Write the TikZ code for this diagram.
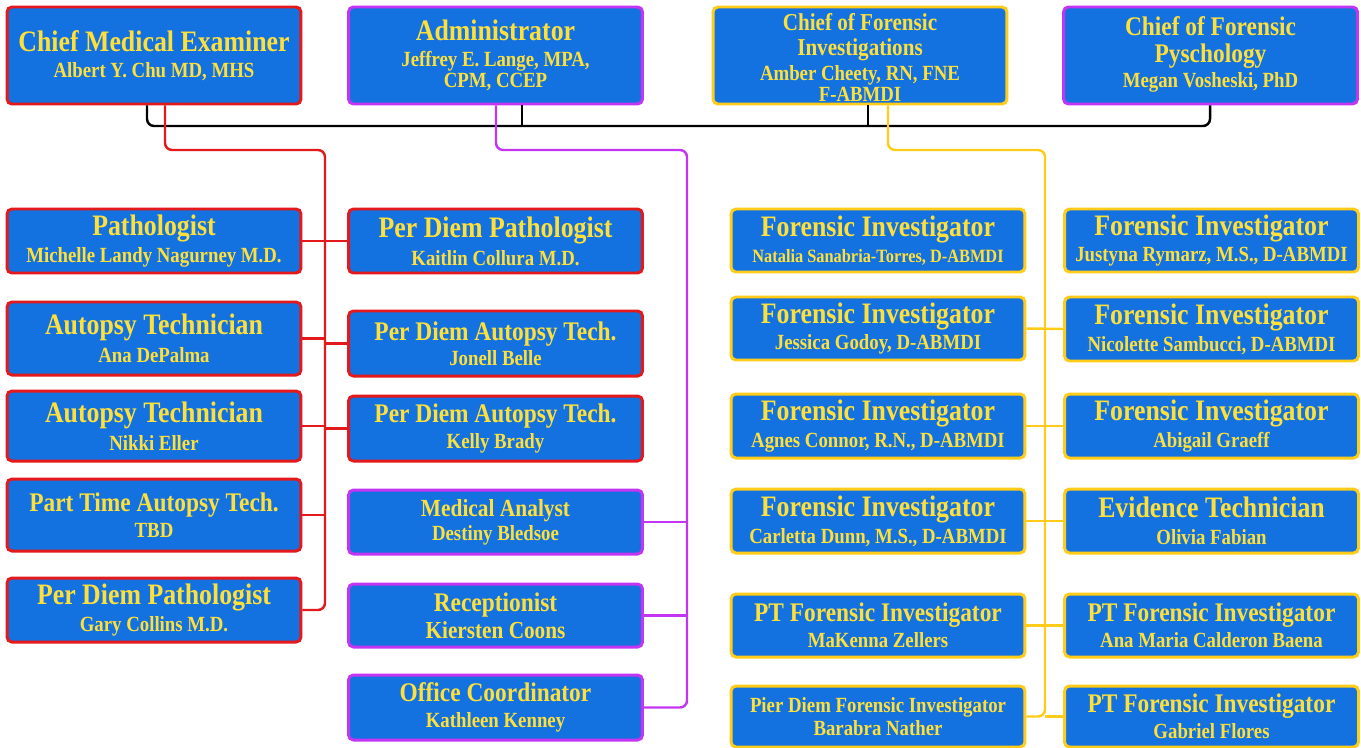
\documentclass[tikz,border=0pt]{standalone}
\usepackage{fontspec}
\setmainfont{Liberation Serif}[FakeStretch=0.87]
\usepackage{xcolor}
\usepackage{tikz}

\definecolor{boxblue}{HTML}{1372E0}
\definecolor{boxtext}{HTML}{FFE03A}
\definecolor{medred}{HTML}{E3191B}
\definecolor{admpurple}{HTML}{C335F2}
\definecolor{invgold}{HTML}{FFCC1A}

\newcommand{\ttl}{\fontsize{16.9}{19}\selectfont}
\newcommand{\ttm}{\fontsize{15.3}{18}\selectfont}
\newcommand{\tts}{\fontsize{12.3}{15}\selectfont}
\newcommand{\nm}{\fontsize{12.3}{15}\selectfont}
\newcommand{\nms}{\fontsize{10.7}{13}\selectfont}

\tikzset{
  box/.style={draw, rounded corners=2.8pt, fill=boxblue, text=boxtext,
    line width=1.7pt, minimum width=5.88cm, align=center, inner sep=0pt,
    font={\bfseries\fontsize{12}{15.3}\selectfont}},
  redbox/.style={box, draw=medred},
  purplebox/.style={box, draw=admpurple},
  goldbox/.style={box, draw=invgold},
  hgt/.style={minimum height=#1*0.02cm},
  busline/.style={line width=1.4pt, black, rounded corners=4pt},
  redline/.style={line width=1.4pt, medred, rounded corners=4pt},
  purpleline/.style={line width=1.4pt, admpurple, rounded corners=4pt},
  goldline/.style={line width=1.4pt, invgold, rounded corners=4pt}
}

\begin{document}
\begin{tikzpicture}[x=0.02cm, y=-0.02cm]
  \useasboundingbox (0,0) rectangle (1361,747);

  % top row
  \node[redbox, hgt=97] (cme) at (154,55.5)
    {{\ttl Chief Medical Examiner}\\[-0.6pt]{\nm Albert Y. Chu MD, MHS}};
  \node[purplebox, hgt=97] (adm) at (495.5,55.5)
    {{\ttl Administrator}\\[-0.6pt]{\nm Jeffrey E. Lange, MPA,}\\[-3.4pt]{\nm CPM, CCEP}};
  \node[goldbox, hgt=97] (cfi) at (860,55.5)
    {{\fontsize{13.8}{15}\selectfont\rule{0pt}{12.2pt}Chief of Forensic}\\[-0.8pt]
     {\fontsize{13.8}{15}\selectfont Investigations}\\[-1.4pt]
     {\nm Amber Cheety, RN, FNE}\\[-3.1pt]{\nm F-ABMDI}};
  \node[purplebox, hgt=97] (cfp) at (1210.5,55.5)
    {{\ttm Chief of Forensic}\\[0pt]{\ttm Pyschology}\\[-1.1pt]{\nm Megan Vosheski, PhD}\rule[-4pt]{0pt}{1pt}};

  % medical examiner column
  \node[redbox, hgt=64] (path) at (154,241)
    {{\ttl Pathologist}\\{\nm Michelle Landy Nagurney M.D.}};
  \node[redbox, hgt=73] (aut1) at (154,338.5)
    {{\ttl Autopsy Technician}\\[0.6pt]{\nm Ana DePalma}};
  \node[redbox, hgt=70] (aut2) at (154,426)
    {{\ttl Autopsy Technician}\\[0.6pt]{\nm Nikki Eller}};
  \node[redbox, hgt=72] (ptat) at (154,515)
    {{\ttm Part Time Autopsy Tech.}\\[-0.6pt]{\nm TBD}};
  \node[redbox, hgt=64] (pdp2) at (154,610)
    {{\ttl Per Diem Pathologist}\\{\nm Gary Collins M.D.}};

  \node[redbox, hgt=64] (pdp1) at (495.5,241)
    {{\ttl Per Diem Pathologist}\\[0.6pt]{\nm Kaitlin Collura M.D.}};
  \node[redbox, hgt=65] (pdat1) at (495.5,343.5)
    {{\ttm Per Diem Autopsy Tech.}\\[-1.1pt]{\nm Jonell Belle}};
  \node[redbox, hgt=65] (pdat2) at (495.5,428.5)
    {{\ttm Per Diem Autopsy Tech.}\\[-0.6pt]{\nm Kelly Brady}};

  % administrator column
  \node[purplebox, hgt=64] (mda) at (495.5,522)
    {{\fontsize{14}{17}\selectfont Medical Analyst}\\[-1.7pt]{\nm Destiny Bledsoe}};
  \node[purplebox, hgt=63] (rec) at (495.5,615.5)
    {{\ttm Receptionist}\\{\fontsize{13.9}{16}\selectfont Kiersten Coons}};
  \node[purplebox, hgt=65] (ofc) at (495.5,707.5)
    {{\ttm Office Coordinator}\\[-0.6pt]{\nm Kathleen Kenney}};

  % investigations columns
  \node[goldbox, hgt=63] (fi1) at (878,240.5)
    {{\ttl Forensic Investigator}\\[-0.6pt]{\nms Natalia Sanabria-Torres, D-ABMDI}};
  \node[goldbox, hgt=63] (fi2) at (878,328.5)
    {{\ttl Forensic Investigator}\\{\nm Jessica Godoy, D-ABMDI}};
  \node[goldbox, hgt=64] (fi3) at (878,426)
    {{\ttl Forensic Investigator}\\{\nm Agnes Connor, R.N., D-ABMDI}};
  \node[goldbox, hgt=64] (fi4) at (878,521)
    {{\ttl Forensic Investigator}\\{\nm Carletta Dunn, M.S., D-ABMDI}};
  \node[goldbox, hgt=63] (ptfi1) at (878,625.5)
    {{\ttm PT Forensic Investigator}\\[-0.6pt]{\nm MaKenna Zellers}};
  \node[goldbox, hgt=61] (pdfi) at (878,716.5)
    {{\tts Pier Diem Forensic Investigator}\\[-2.3pt]{\nm Barabra Nather}};

  \node[goldbox, hgt=63] (fi5) at (1211.5,240.5)
    {{\ttl Forensic Investigator}\\{\nm Justyna Rymarz, M.S., D-ABMDI}};
  \node[goldbox, hgt=64] (fi6) at (1211.5,329)
    {{\ttl Forensic Investigator}\\{\nm Nicolette Sambucci, D-ABMDI}};
  \node[goldbox, hgt=64] (fi7) at (1211.5,426)
    {{\ttl Forensic Investigator}\\{\nm Abigail Graeff}};
  \node[goldbox, hgt=64] (evt) at (1211.5,521)
    {{\ttl Evidence Technician}\\{\nm Olivia Fabian}};
  \node[goldbox, hgt=63] (ptfi2) at (1211.5,625.5)
    {{\ttm PT Forensic Investigator}\\[-0.6pt]{\nm Ana Maria Calderon Baena}};
  \node[goldbox, hgt=61] (ptfi3) at (1211.5,716.5)
    {{\ttm PT Forensic Investigator}\\[-0.6pt]{\nm Gabriel Flores}};

  % bus joining the chiefs
  \coordinate (b1) at (147,126);
  \coordinate (b2) at (522,126);
  \coordinate (b3) at (868,126);
  \coordinate (b4) at (1210,126);
  \draw[busline] (cme.south -| b1) -- (b1) -- (b4) -- (cfp.south -| b4);
  \draw[busline] (adm.south -| b2) -- (b2);
  \draw[busline] (cfi.south -| b3) -- (b3);

  % medical examiner trunk
  \coordinate (r1) at (165,150);
  \coordinate (r2) at (325,150);
  \coordinate (r3) at (325,610);
  \draw[redline] (cme.south -| r1) -- (r1) -- (r2) -- (r3) -- (pdp2.east);
  \draw[redline] (path.east) -- (pdp1.west);
  \draw[redline] (aut1.east) -- (aut1.east -| r2);
  \draw[redline] (pdat1.west) -- (pdat1.west -| r2);
  \draw[redline] (aut2.east) -- (aut2.east -| r2);
  \draw[redline] (pdat2.west) -- (pdat2.west -| r2);
  \draw[redline] (ptat.east) -- (ptat.east -| r2);

  % administrator trunk
  \coordinate (p1) at (496,150);
  \coordinate (p2) at (687,150);
  \coordinate (p3) at (687,707.5);
  \draw[purpleline] (adm.south -| p1) -- (p1) -- (p2) -- (p3) -- (ofc.east);
  \draw[purpleline] (mda.east) -- (mda.east -| p2);
  \draw[purpleline] (rec.east) -- (rec.east -| p2);

  % investigations trunk
  \coordinate (g1) at (888,150);
  \coordinate (g2) at (1045,150);
  \coordinate (g3) at (1045,716.5);
  \draw[goldline] (cfi.south -| g1) -- (g1) -- (g2) -- (g3) -- (pdfi.east);
  \draw[goldline] (ptfi3.west) -- (ptfi3.west -| g3);
  \draw[goldline] (fi2.east) -- (fi6.west);
  \draw[goldline] (fi3.east) -- (fi7.west);
  \draw[goldline] (fi4.east) -- (evt.west);
  \draw[goldline] (ptfi1.east) -- (ptfi2.west);
\end{tikzpicture}
\end{document}
